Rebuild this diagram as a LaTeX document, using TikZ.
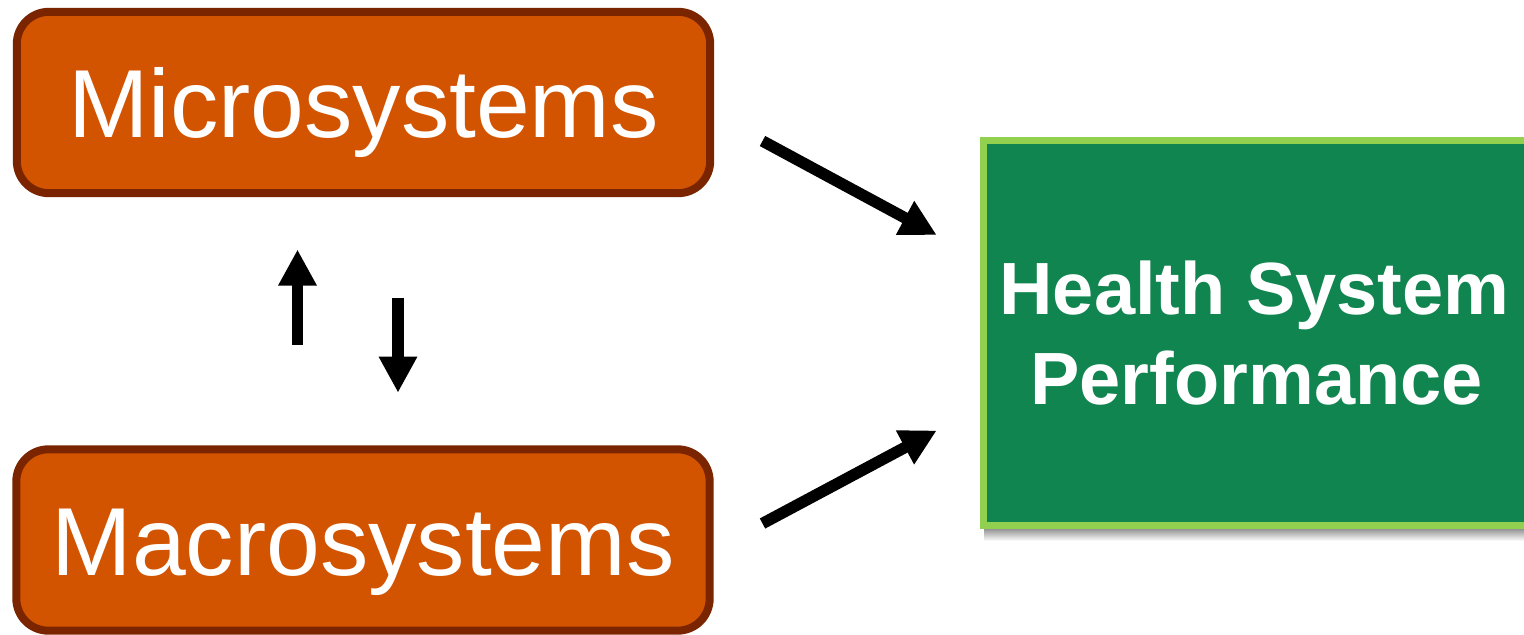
\documentclass[tikz,border=0pt]{standalone}
\usepackage{fontspec}
\setmainfont{Liberation Sans}
\usetikzlibrary{arrows.meta}
\definecolor{sysfill}{HTML}{D35400}
\definecolor{sysedge}{HTML}{7A2400}
\definecolor{perffill}{HTML}{10854F}
\definecolor{perfedge}{HTML}{92D050}
\tikzset{
  sysbox/.style={draw=sysedge, fill=sysfill, line width=6pt, rounded corners=24pt,
    minimum width=520pt, minimum height=136pt, text=white,
    font=\fontsize{72.5}{80}\selectfont, text height=53pt, text depth=0pt, inner sep=0pt},
  perfbox/.style={draw=perfedge, fill=perffill, line width=5.2pt,
    minimum width=409pt, minimum height=289pt, text=white, align=center,
    font=\bfseries\fontsize{55.5}{67.5}\selectfont, inner sep=0pt},
  bigarrow/.style={line width=8.6pt, -{Triangle[length=27pt,width=27pt]}}
}
\begin{document}
\begin{tikzpicture}[x=0.75pt, y=-0.75pt]
  \useasboundingbox (0,0) rectangle (1524,635);
  % soft shadow under the outcome box
  \shade[top color=black!45, bottom color=white] (984,528) rectangle (1524,541);
  % boxes
  \node[sysbox]  (micro) at (363.5,102.5) {Microsystems};
  \node[sysbox]  (macro) at (363,540)   {Macrosystems};
  \node[perfbox] (perf)  at (1256.5,333) {\hspace*{-3pt}Health System\\Performance};
  % free ends of the arrows
  \coordinate (m1) at (762.5,141);
  \coordinate (p1) at (936.7,235);
  \coordinate (m2) at (762.5,523.5);
  \coordinate (p2) at (936.7,430.5);
  \coordinate (u0) at (297.5,345);
  \coordinate (u1) at (297.5,249.5);
  \coordinate (d0) at (398,297.5);
  \coordinate (d1) at (398,392.7);
  % arrows
  \draw[bigarrow] (m1) -- (p1);
  \draw[bigarrow] (m2) -- (p2);
  \draw[bigarrow] (u0) -- (u1);
  \draw[bigarrow] (d0) -- (d1);
\end{tikzpicture}
\end{document}
